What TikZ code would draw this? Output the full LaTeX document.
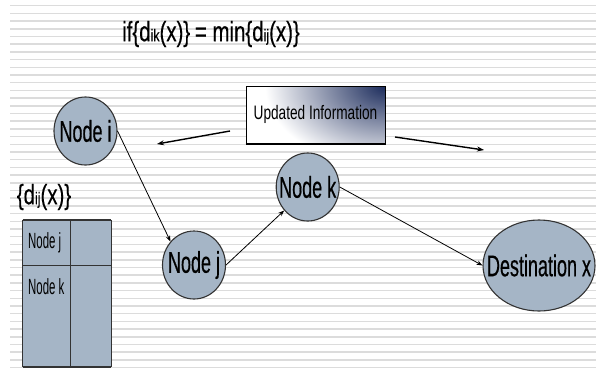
\documentclass[tikz,border=0pt]{standalone}
\usepackage{fontspec}
\setmainfont{Liberation Sans}
\newfontfamily\condA[FakeStretch=0.6,FakeBold=0.4]{Liberation Sans}
\newfontfamily\condB[FakeStretch=0.7]{Liberation Sans}
\newfontfamily\condC[FakeStretch=0.52]{Liberation Sans}
\newfontfamily\condD[FakeStretch=0.73,FakeBold=0.3]{Liberation Sans}
\usetikzlibrary{shapes.geometric,arrows.meta}
\definecolor{nodefill}{HTML}{A5B5C6}
\definecolor{edgegray}{HTML}{333333}
\definecolor{stripecol}{HTML}{DCDCDC}
\definecolor{navyc}{HTML}{1C2C5C}
\newcommand\smalltxt[1]{{\fontsize{17}{17}\selectfont #1}}
\newcommand\nolabelwidth[1]{\makebox[0pt]{#1}}
\begin{document}
\begin{tikzpicture}[x=1pt,y=-1pt,
  netnode/.style={ellipse, draw=edgegray, line width=1.1pt, fill=nodefill, inner sep=0pt,
    font=\condA\fontsize{30}{30}\selectfont},
  tabletext/.style={font=\condC\fontsize{22}{22}\selectfont, inner sep=0pt, anchor=west},
  formula/.style={font=\condD\fontsize{28}{28}\selectfont, inner sep=0pt},
  link/.style={-{Stealth[length=6pt,width=4.5pt]}, line width=0.8pt, black},
  infoarrow/.style={-{Stealth[length=7pt,width=5pt]}, line width=1.4pt, black}]
\useasboundingbox (0,0) rectangle (596,378);
\fill[white] (0,0) rectangle (596,378);
\foreach \k in {0,...,47} \draw[stripecol, line width=1.5pt] (10,5.7+7.7*\k) -- (596,5.7+7.7*\k);

% title
\node[formula] (title) at (211,34) {if\{d\smalltxt{ik}(x)\}\,= min\{d\smalltxt{ij}(x)\}};

% updated information box
\begin{scope}
  \clip (246,86) rectangle (385,143);
  \fill[white] (246,86) rectangle (385,143);
  \shade[inner color=navyc, outer color=white] (385,86) ellipse [x radius=120, y radius=80];
\end{scope}
\node[draw=black, line width=1pt, minimum width=139pt, minimum height=57pt, inner sep=0pt,
  font=\condB\fontsize{19.5}{19.5}\selectfont] (upd) at (315.5,114.5) {Updated Information};
\draw[black, line width=2pt] (upd.south west) -- (upd.south east);
\coordinate (la1) at (230,131);
\coordinate (la2) at (157,144);
\coordinate (ra1) at (395,137);
\coordinate (ra2) at (484,150);
\draw[infoarrow] (la1) -- (la2);
\draw[infoarrow] (ra1) -- (ra2);

% nodes
\node[netnode, minimum width=63pt, minimum height=68pt] (i) at (85.5,131) {\nolabelwidth{Node i}};
\node[netnode, minimum width=63pt, minimum height=68pt] (j) at (194,265) {\nolabelwidth{Node j}};
\node[netnode, minimum width=63pt, minimum height=68pt] (k) at (307.7,187) {\nolabelwidth{Node k}};
\node[netnode, minimum width=112pt, minimum height=91pt] (x) at (539,265.5) {\nolabelwidth{Destination x}};

\draw[link] (i.east) -- (j.135);
\draw[link] (j.east) -- (k.225);
\draw[link] (k.east) -- (x.west);

% table
\node[formula] (dlabel) at (44,197) {\{d\smalltxt{ij}(x)\}};
\fill[nodefill] (22.7,220) rectangle (111,366.7);
\draw[edgegray, line width=0.8pt] (22.7,220) rectangle (111,366.7);
\draw[edgegray, line width=0.8pt] (70,220) -- (70,366.7);
\draw[edgegray, line width=2pt] (22.7,220) -- (111,220);
\draw[edgegray, line width=2pt] (22.7,366.7) -- (111,366.7);
\draw[edgegray, line width=1.5pt] (22.7,265.7) -- (111,265.7);
\node[tabletext] (tj) at (28,243) {Node j};
\node[tabletext] (tk) at (28,287) {Node k};
\end{tikzpicture}
\end{document}
